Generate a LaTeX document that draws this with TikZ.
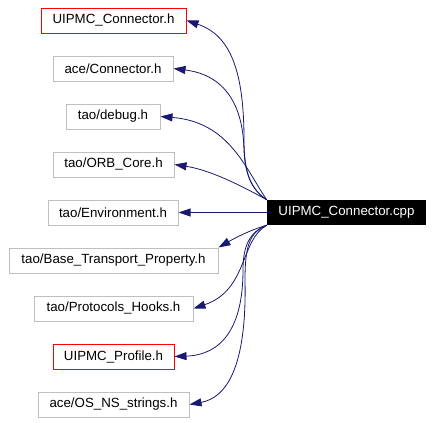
\documentclass[tikz,border=0pt]{standalone}
\usepackage{fontspec}
\setmainfont{Liberation Sans}
\usetikzlibrary{arrows.meta}
\definecolor{edgeblue}{HTML}{191970}
\definecolor{boxgray}{HTML}{BFBFBF}
\tikzset{
  filebox/.style={draw=boxgray, line width=1pt, minimum height=25pt, inner sep=0pt, font=\fontsize{13.3}{15}\selectfont},
  redbox/.style={filebox, draw=red},
  mainbox/.style={fill=black, text=white, minimum height=25pt, inner sep=0pt, font=\fontsize{13.3}{15}\selectfont},
  dep/.style={draw=edgeblue, line width=0.8pt, -{Triangle[length=12pt,width=8pt]}},
}
\begin{document}
\begin{tikzpicture}[x=1pt,y=-1pt]
\useasboundingbox (0,0) rectangle (434,423);
\node[redbox, minimum width=145pt] (n1) at (113.5,20.5) {UIPMC\_Connector.h};
\node[filebox, minimum width=120pt] (n2) at (113,68.5) {ace/Connector.h};
\node[filebox, minimum width=94pt] (n3) at (113,116.5) {tao/debug.h};
\node[filebox, minimum width=121pt] (n4) at (113.5,164.5) {tao/ORB\_Core.h};
\node[filebox, minimum width=130pt] (n5) at (113,212.5) {tao/Environment.h};
\node[filebox, minimum width=209pt] (n6) at (113.5,260.5) {tao/Base\_Transport\_Property.h};
\node[filebox, minimum width=159pt] (n7) at (113.5,308.5) {tao/Protocols\_Hooks.h};
\node[redbox, minimum width=121pt] (n8) at (113.5,356.5) {UIPMC\_Profile.h};
\node[filebox, minimum width=151pt] (n9) at (113.5,404.5) {ace/OS\_NS\_strings.h};
\node[mainbox, minimum width=159pt] (m) at (346.5,212.5) {UIPMC\_Connector.cpp};

\draw[dep] (m.north west) .. controls (252,190) and (244,175) .. (244,140) .. controls (244,70) and (230,35) .. (n1.east);
\draw[dep] (m.north west) .. controls (252,190) and (245,175) .. (244,150) .. controls (243,105) and (225,75) .. (n2.east);
\draw[dep] (m.north west) .. controls (246,170) and (230,122) .. (n3.east);
\draw[dep] (m.north west) .. controls (240,185) and (210,170) .. (n4.east);
\draw[dep] (m.west) -- (n5.east);
\draw[dep] (m.south west) .. controls (250,230) and (235,238) .. (n6.north east);
\draw[dep] (m.south west) .. controls (240,240) and (248,290) .. (n7.east);
\draw[dep] (m.south west) .. controls (250,232) and (243,245) .. (243,270) .. controls (243,330) and (220,355) .. (n8.east);
\draw[dep] (m.south west) .. controls (250,232) and (245,245) .. (245,280) .. controls (247,370) and (225,398) .. (n9.east);
\end{tikzpicture}
\end{document}
